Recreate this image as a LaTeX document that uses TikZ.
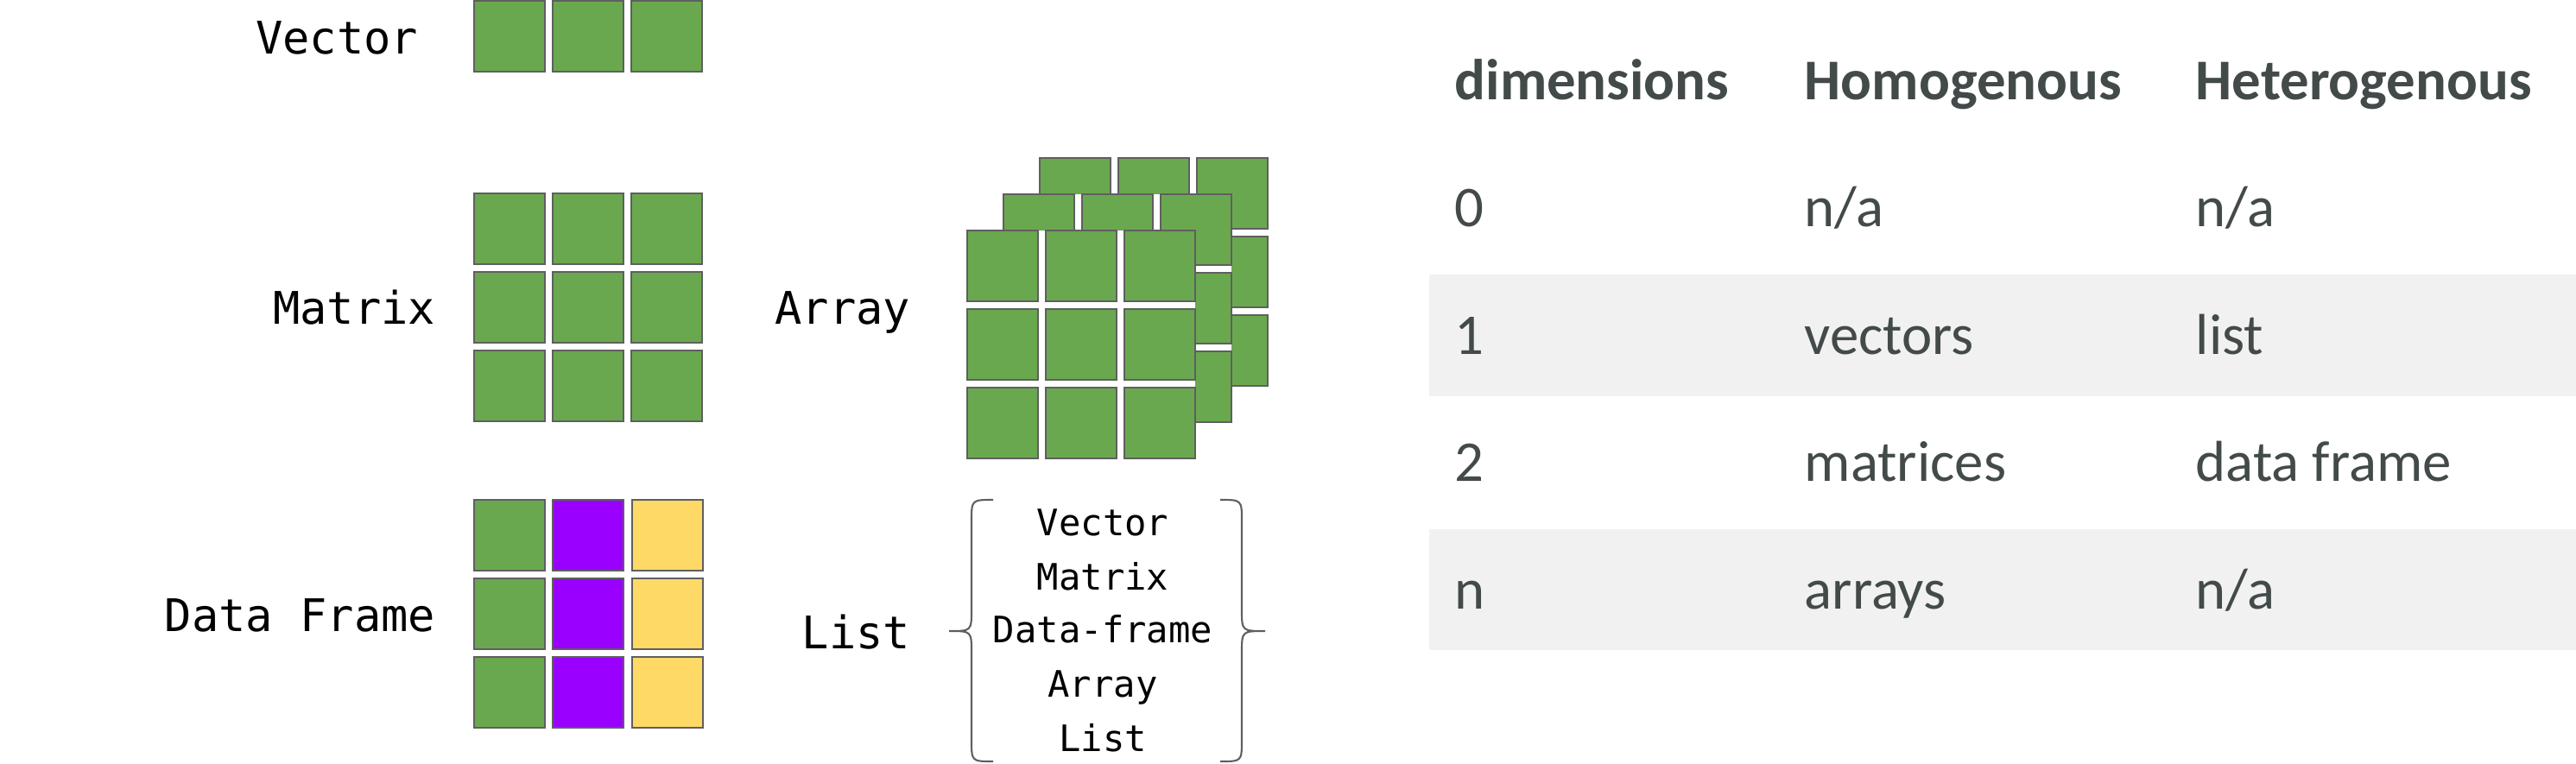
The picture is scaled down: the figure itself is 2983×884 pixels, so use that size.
\documentclass[tikz,border=0pt]{standalone}
\usepackage{fontspec}
\setmainfont{Carlito}
\setmonofont{DejaVu Sans Mono}

\definecolor{zellgruen}{HTML}{6AA84F}
\definecolor{zelllila}{HTML}{9900FF}
\definecolor{zellgelb}{HTML}{FFD966}
\definecolor{rahmen}{HTML}{5F5F5F}
\definecolor{tabtext}{HTML}{434A4A}
\definecolor{zeilengrau}{HTML}{F1F1F1}

\tikzset{
  zelle/.style={draw=rahmen, line width=0.75pt},
  klammer/.style={draw=rahmen, line width=0.6pt},
  typname/.style={font=\ttfamily\fontsize{14.8pt}{14.8pt}\selectfont, anchor=base east, inner sep=0pt},
  eintrag/.style={font=\ttfamily\fontsize{12pt}{12pt}\selectfont, anchor=base, inner sep=0pt},
  tabkopf/.style={font=\bfseries\fontsize{19pt}{19pt}\selectfont, text=tabtext, anchor=base west, inner sep=0pt},
  tabwert/.style={font=\fontsize{19pt}{19pt}\selectfont, text=tabtext, anchor=base west, inner sep=0pt}
}

\begin{document}
\begin{tikzpicture}[x=0.01cm, y=-0.01cm]
  \useasboundingbox (0,0) rectangle (2983,884);

  % Vector
  \node[typname] (vector) at (485,62) {Vector};
  \foreach \i in {0,1,2}
    \draw[zelle, fill=zellgruen] (549+91*\i,1) rectangle ++(82,82);

  % Matrix
  \node[typname] (matrix) at (505,375) {Matrix};
  \foreach \i in {0,1,2}
    \foreach \j in {0,1,2}
      \draw[zelle, fill=zellgruen] (549+91*\i,224+91*\j) rectangle ++(82,82);

  % Array (drei Ebenen, hinten zuerst, jede mit weissem Grund)
  \node[typname] (array) at (1055,375) {Array};
  \foreach \o in {84,42,0} {
    \fill[white] (1120+\o,267-\o) rectangle ++(264,264);
    \foreach \i in {0,1,2}
      \foreach \j in {0,1,2}
        \draw[zelle, fill=zellgruen] (1120+\o+91*\i,267-\o+91*\j) rectangle ++(82,82);
  }

  % Data Frame
  \node[typname] (dataframe) at (505,731) {Data Frame};
  \foreach \j in {0,1,2} {
    \draw[zelle, fill=zellgruen] (549,579+91*\j) rectangle ++(82,82);
    \draw[zelle, fill=zelllila] (640,579+91*\j) rectangle ++(82,82);
    \draw[zelle, fill=zellgelb] (732,579+91*\j) rectangle ++(82,82);
  }

  % List mit Klammern
  \node[typname] (list) at (1055,751) {List};
  \draw[klammer] (1150,579) .. controls (1125,579) .. (1125,604) -- (1125,706)
    .. controls (1125,731) .. (1099,731) .. controls (1125,731) .. (1125,756)
    -- (1125,857) .. controls (1125,882) .. (1150,882);
  \draw[klammer] (1413,579) .. controls (1438,579) .. (1438,604) -- (1438,706)
    .. controls (1438,731) .. (1465,731) .. controls (1438,731) .. (1438,756)
    -- (1438,857) .. controls (1438,882) .. (1413,882);
  \node[eintrag] (lvector) at (1277,620) {Vector};
  \node[eintrag] (lmatrix) at (1277,683) {Matrix};
  \node[eintrag] (ldataframe) at (1277,744) {Data-frame};
  \node[eintrag] (larray) at (1277,807) {Array};
  \node[eintrag] (llist) at (1277,870) {List};

  % Tabelle
  \fill[zeilengrau] (1655,318) rectangle (2983,459);
  \fill[zeilengrau] (1655,613) rectangle (2983,753);

  \node[tabkopf] (kdim) at (1684,115) {dimensions};
  \node[tabkopf] (khom) at (2089,115) {Homogenous};
  \node[tabkopf] (khet) at (2542,115) {Heterogenous};

  \node[tabwert] (d0) at (1684,262) {0};
  \node[tabwert] (h0) at (2089,262) {n/a};
  \node[tabwert] (e0) at (2542,262) {n/a};

  \node[tabwert] (d1) at (1684,410) {1};
  \node[tabwert] (h1) at (2089,410) {vectors};
  \node[tabwert] (e1) at (2542,410) {list};

  \node[tabwert] (d2) at (1684,557) {2};
  \node[tabwert] (h2) at (2089,557) {matrices};
  \node[tabwert] (e2) at (2542,557) {data frame};

  \node[tabwert] (dn) at (1684,705) {n};
  \node[tabwert] (hn) at (2089,705) {arrays};
  \node[tabwert] (en) at (2542,705) {n/a};
\end{tikzpicture}
\end{document}
